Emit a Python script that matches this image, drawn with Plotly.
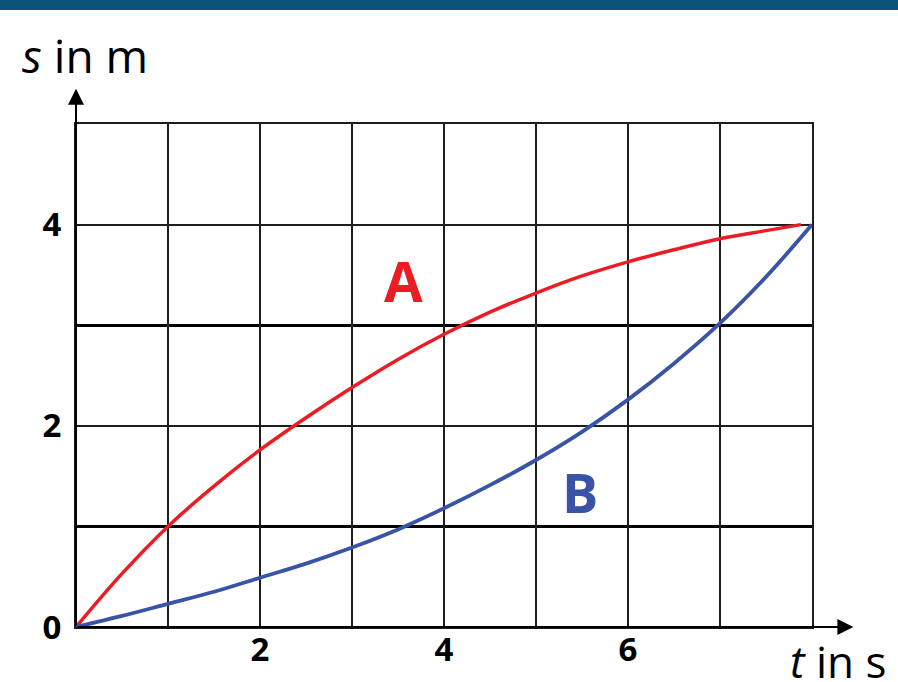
import plotly.graph_objects as go

# curve A (red) and curve B (blue), s in m against t in s
t_a = [0, 0.5, 1, 1.5, 2, 2.5, 3, 3.5, 4, 4.5, 5, 5.5, 6, 6.5, 7, 7.5, 7.88]
s_a = [0, 0.53, 1.0, 1.40, 1.76, 2.08, 2.38, 2.66, 2.91, 3.13, 3.32, 3.49, 3.63, 3.75, 3.86, 3.94, 4.0]

t_b = [0, 0.5, 1, 1.5, 2, 2.5, 3, 3.5, 4, 4.5, 5, 5.5, 6, 6.5, 7, 7.5, 8]
s_b = [0, 0.11, 0.23, 0.35, 0.49, 0.63, 0.79, 0.97, 1.18, 1.41, 1.66, 1.94, 2.26, 2.62, 3.02, 3.48, 4.0]

x_ticks = [0, 1, 2, 3, 4, 5, 6, 7, 8]
x_labels = ["", "", "2", "", "4", "", "6", "", ""]
y_ticks = [0, 2, 4, 5]
y_labels = ["0", "2", "4", ""]
y_minor = [1, 3]

RED = "#ec1c24"
BLUE = "#3953a6"
GRID = "#1e1e1e"

fig = go.Figure()
fig.add_trace(go.Scatter(x=t_a, y=s_a, mode="lines", line=dict(color=RED, width=3.5, shape="spline"),
                         hoverinfo="skip"))
fig.add_trace(go.Scatter(x=t_b, y=s_b, mode="lines", line=dict(color=BLUE, width=3.8, shape="spline"),
                         hoverinfo="skip"))

tick_font = dict(family="Open Sans", size=33, color="black", weight="bold")

fig.update_layout(
    width=898, height=682,
    margin=dict(l=76, r=86, t=124, b=55),
    paper_bgcolor="white", plot_bgcolor="white",
    showlegend=False,
    xaxis=dict(range=[0, 8], tickvals=x_ticks, ticktext=x_labels, showgrid=True,
               gridcolor=GRID, gridwidth=2, zeroline=False, showline=True, mirror=True,
               linecolor=GRID, linewidth=2, ticks="", tickfont=tick_font,
               ticklabelstandoff=-8, automargin=False, fixedrange=True),
    yaxis=dict(range=[0, 5], tickvals=y_ticks, ticktext=y_labels, showgrid=True,
               gridcolor=GRID, gridwidth=2, zeroline=False, showline=True, mirror=True,
               linecolor=GRID, linewidth=2, ticks="", tickfont=tick_font,
               ticklabelstandoff=6, automargin=False, fixedrange=True,
               minor=dict(tickvals=y_minor, showgrid=True, gridcolor="black", gridwidth=3)),
)

# band at the top of the page
fig.add_shape(type="rect", xref="paper", yref="paper", x0=-0.11, x1=1.12, y0=1.2266, y1=1.26,
              fillcolor="#0b5479", line_width=0, layer="above")

# axis arrows
fig.add_annotation(x=0, y=5.35, ax=0, ay=0, xref="x", yref="y", axref="x", ayref="y",
                   text="", showarrow=True, arrowhead=2, arrowsize=1.6, arrowwidth=2,
                   arrowcolor="black", standoff=0)
fig.add_annotation(x=8.45, y=0, ax=0, ay=0, xref="x", yref="y", axref="x", ayref="y",
                   text="", showarrow=True, arrowhead=2, arrowsize=1.6, arrowwidth=2,
                   arrowcolor="black", standoff=0)

# axis titles
fig.add_annotation(x=0.0122, y=1.137, xref="paper", yref="paper", showarrow=False,
                   xanchor="center", yanchor="middle",
                   text="<i>s</i> in m", font=dict(family="Open Sans", size=46, color="black"))
fig.add_annotation(x=1.035, y=-0.068, xref="paper", yref="paper", showarrow=False,
                   xanchor="center", yanchor="middle",
                   text="<i>t</i> in s", font=dict(family="Open Sans", size=44, color="black"))

# curve labels
fig.add_annotation(x=3.565, y=3.453, showarrow=False, text="A",
                   font=dict(family="Open Sans", size=56, color=RED, weight="bold"))
fig.add_annotation(x=5.478, y=1.343, showarrow=False, text="B",
                   font=dict(family="Open Sans", size=54, color=BLUE, weight="bold"))

# page has a default body margin; drop it so the figure sits at the top-left corner
fig.write_html("out.html", config={"displayModeBar": False},
               post_script="document.body.style.margin='0';")
